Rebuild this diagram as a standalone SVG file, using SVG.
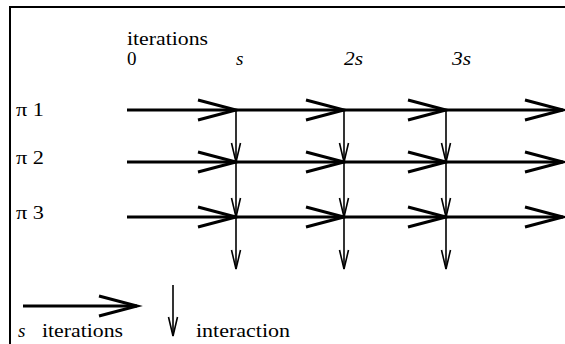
<svg xmlns="http://www.w3.org/2000/svg" width="565" height="344" viewBox="0 0 565 344">
  <style>
    .h { stroke: #000; stroke-width: 3; fill: none; marker-end: url(#chev); }
    .v { stroke: #000; stroke-width: 1.6; fill: none; marker-end: url(#tick); }
    .frame { stroke: #000; stroke-width: 2; fill: none; }
  </style>
  <defs>
    <!-- long open chevron for the iteration runs -->
    <marker id="chev" markerUnits="userSpaceOnUse" viewBox="-40 -12 42 24" refX="0" refY="0" markerWidth="42" markerHeight="24" orient="auto" overflow="visible">
      <path d="M-38,-10 L0,0 L-38,10" fill="none" stroke="#000" stroke-width="3"/>
    </marker>
    <!-- small open arrowhead for interactions -->
    <marker id="tick" markerUnits="userSpaceOnUse" viewBox="-20 -6 22 12" refX="0" refY="0" markerWidth="22" markerHeight="12" orient="auto" overflow="visible">
      <path d="M-19,-4.5 L0,0 L-19,4.5" fill="none" stroke="#000" stroke-width="1.6"/>
    </marker>
  </defs>

  <rect width="565" height="344" fill="#fff"/>
  <path class="frame" d="M10,344 L10,7 L565,7"/>

  <g font-family="Liberation Serif, Times New Roman, serif" font-size="19" fill="#000">
    <g id="axis-labels">
      <text x="127" y="45" textLength="81" lengthAdjust="spacingAndGlyphs">iterations</text>
      <text x="127" y="65">0</text>
      <text font-style="italic" x="236" y="65">s</text>
      <text font-style="italic" x="344" y="65" textLength="19" lengthAdjust="spacingAndGlyphs">2s</text>
      <text font-style="italic" x="452" y="65" textLength="19" lengthAdjust="spacingAndGlyphs">3s</text>
    </g>

    <g id="p1"><text x="16" y="116" textLength="28" lengthAdjust="spacingAndGlyphs">π 1</text></g>
    <g id="p2"><text x="16" y="164" textLength="28" lengthAdjust="spacingAndGlyphs">π 2</text></g>
    <g id="p3"><text x="16" y="219" textLength="28" lengthAdjust="spacingAndGlyphs">π 3</text></g>
  </g>

  <g id="connectors">
    <!-- processor 1 -->
    <path class="h" d="M127,110 L236,110"/>
    <path class="h" d="M236,110 L344,110"/>
    <path class="h" d="M344,110 L446,110"/>
    <path class="h" d="M446,110 L563,110"/>
    <!-- processor 2 -->
    <path class="h" d="M127,162 L236,162"/>
    <path class="h" d="M236,162 L344,162"/>
    <path class="h" d="M344,162 L446,162"/>
    <path class="h" d="M446,162 L563,162"/>
    <!-- processor 3 -->
    <path class="h" d="M127,217 L236,217"/>
    <path class="h" d="M236,217 L344,217"/>
    <path class="h" d="M344,217 L446,217"/>
    <path class="h" d="M446,217 L563,217"/>
    <!-- interactions at s, 2s, 3s -->
    <path class="v" d="M236,110 L236,162"/>
    <path class="v" d="M236,162 L236,217"/>
    <path class="v" d="M236,217 L236,269"/>
    <path class="v" d="M344,110 L344,162"/>
    <path class="v" d="M344,162 L344,217"/>
    <path class="v" d="M344,217 L344,269"/>
    <path class="v" d="M446,110 L446,162"/>
    <path class="v" d="M446,162 L446,217"/>
    <path class="v" d="M446,217 L446,269"/>
  </g>

  <g id="legend">
    <path class="h" d="M23,306 L137,306"/>
    <path class="v" d="M173,285 L173,336"/>
    <g font-family="Liberation Serif, Times New Roman, serif" font-size="19" fill="#000">
      <text x="18" y="337"><tspan font-style="italic">s</tspan><tspan x="42" textLength="81" lengthAdjust="spacingAndGlyphs">iterations</tspan></text>
      <text x="196" y="337" textLength="94" lengthAdjust="spacingAndGlyphs">interaction</text>
    </g>
  </g>
</svg>
